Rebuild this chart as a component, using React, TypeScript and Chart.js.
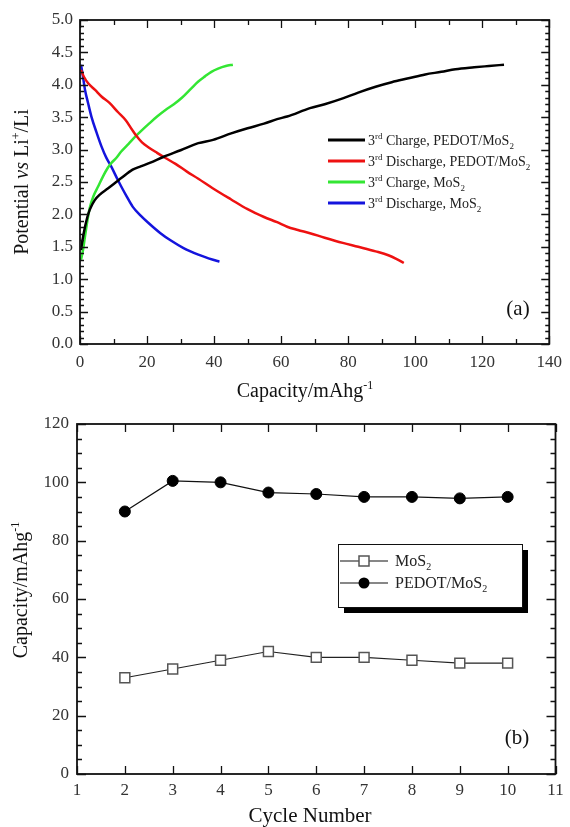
import React, { useEffect, useRef } from "react";
import { Chart, registerables } from "chart.js";

Chart.register(...registerables);

// ---------- Panel (a): 3rd charge / discharge curves ----------
const chargePedotCap = [0.3, 0.8, 1.5, 2.2, 2.9, 4.4, 6, 8.3, 10.8, 12.3, 15.7, 18.1, 21, 25, 30, 35.3, 39.7, 45.1, 50, 54.9, 58.8, 61.8, 68.6, 73, 78.4, 83, 88.2, 93, 98, 103, 107.8, 112, 117.6, 122, 126.5];
const chargePedotV = [1.45, 1.62, 1.81, 1.96, 2.07, 2.22, 2.31, 2.4, 2.5, 2.56, 2.69, 2.74, 2.8, 2.89, 2.99, 3.1, 3.15, 3.25, 3.33, 3.4, 3.47, 3.51, 3.64, 3.7, 3.79, 3.88, 3.97, 4.04, 4.1, 4.16, 4.2, 4.24, 4.27, 4.29, 4.31];

const dischargePedotCap = [0.3, 1.2, 2.5, 4.5, 6.4, 8.8, 11.3, 13.7, 15.5, 16.7, 18.5, 20.6, 23, 25.5, 28.5, 31.9, 35.3, 39.7, 45.1, 50, 54.9, 58.8, 61.8, 65, 68.6, 73, 78.4, 83, 88.2, 92, 94.5, 96.6];
const dischargePedotV = [4.23, 4.12, 4.02, 3.92, 3.82, 3.72, 3.58, 3.45, 3.31, 3.22, 3.11, 3.03, 2.95, 2.87, 2.78, 2.66, 2.55, 2.4, 2.23, 2.08, 1.96, 1.88, 1.81, 1.76, 1.71, 1.64, 1.56, 1.5, 1.43, 1.37, 1.31, 1.25];

const chargeMosCap = [0.3, 0.9, 1.5, 2.2, 2.9, 4, 5.4, 6.8, 8.3, 9.3, 10.8, 12.3, 14.5, 16.7, 18.5, 20.6, 23, 25.5, 28, 30.4, 33.3, 35.3, 37.3, 39.2, 41.2, 43.5, 45.6];
const chargeMosV = [1.3, 1.45, 1.66, 1.9, 2.1, 2.28, 2.43, 2.58, 2.72, 2.79, 2.87, 2.97, 3.09, 3.21, 3.3, 3.4, 3.51, 3.61, 3.7, 3.8, 3.95, 4.05, 4.13, 4.2, 4.25, 4.29, 4.31];

const dischargeMosCap = [0.3, 0.9, 1.5, 2.4, 3.4, 4.9, 6.4, 7.8, 9.3, 11.3, 12.3, 14, 15.7, 18.1, 20.6, 24, 27, 30.9, 35.3, 39.7, 41.6];
const dischargeMosV = [4.31, 4.12, 3.92, 3.72, 3.51, 3.27, 3.05, 2.88, 2.74, 2.53, 2.43, 2.27, 2.12, 1.98, 1.86, 1.71, 1.6, 1.48, 1.38, 1.3, 1.27];

const curveLabels = ["Charge, PEDOT/MoS", "Discharge, PEDOT/MoS", "Charge, MoS", "Discharge, MoS"];
const curveColors = ["#000000", "#ee1111", "#33e633", "#1414dd"];

// ---------- Panel (b): capacity vs cycle ----------
const cycles = [2, 3, 4, 5, 6, 7, 8, 9, 10];
const mos2Capacity = [33, 36, 39, 42, 40, 40, 39, 38, 38];
const pedotCapacity = [90, 100.5, 100, 96.5, 96, 95, 95, 94.5, 95];

const FONT = '"Liberation Serif", "Times New Roman", serif';

type Seg = { t: string; i?: boolean; sup?: boolean; sub?: boolean };

function drawRich(
  ctx: CanvasRenderingContext2D,
  segs: Seg[],
  x: number,
  y: number,
  size: number,
  align: "left" | "center",
  rotate = false,
  color = "#111"
) {
  ctx.save();
  ctx.translate(x, y);
  if (rotate) ctx.rotate(-Math.PI / 2);
  const fontOf = (s: Seg) =>
    `${s.i ? "italic " : ""}${s.sup || s.sub ? Math.round(size * 0.62) : size}px ${FONT}`;
  let total = 0;
  for (const s of segs) {
    ctx.font = fontOf(s);
    total += ctx.measureText(s.t).width;
  }
  let cx = align === "center" ? -total / 2 : 0;
  ctx.textBaseline = "alphabetic";
  ctx.textAlign = "left";
  ctx.fillStyle = color;
  for (const s of segs) {
    ctx.font = fontOf(s);
    const dy = s.sup ? -size * 0.4 : s.sub ? size * 0.25 : 0;
    ctx.fillText(s.t, cx, dy);
    cx += ctx.measureText(s.t).width;
  }
  ctx.restore();
}

function framePlugin(o: {
  xMinor: number; xMajor: number; yMinor: number; yMajor: number;
  majorLen: number; minorLen: number; xMajorLen?: number; xMinorLen?: number;
}) {
  return {
    id: "frameTicks",
    afterDatasetsDraw(chart: any) {
      const { ctx, chartArea: a, scales } = chart;
      const xs = scales.x;
      const ys = scales.y;
      ctx.save();
      ctx.strokeStyle = "#111";
      ctx.lineWidth = 1.3;
      ctx.beginPath();
      const isMajor = (v: number, m: number) => Math.abs(v / m - Math.round(v / m)) < 1e-6;
      const xMaj = o.xMajorLen ?? o.majorLen;
      const xMin = o.xMinorLen ?? o.minorLen;
      const nx = Math.round((xs.max - xs.min) / o.xMinor);
      for (let k = 0; k <= nx; k++) {
        const v = xs.min + k * o.xMinor;
        const px = Math.round(xs.getPixelForValue(v)) + 0.5;
        const len = isMajor(v, o.xMajor) ? xMaj : xMin;
        ctx.moveTo(px, a.bottom);
        ctx.lineTo(px, a.bottom - len);
        ctx.moveTo(px, a.top);
        ctx.lineTo(px, a.top + len);
      }
      const ny = Math.round((ys.max - ys.min) / o.yMinor);
      for (let k = 0; k <= ny; k++) {
        const v = ys.min + k * o.yMinor;
        const py = Math.round(ys.getPixelForValue(v)) + 0.5;
        const len = isMajor(v, o.yMajor) ? o.majorLen : o.minorLen;
        ctx.moveTo(a.left, py);
        ctx.lineTo(a.left + len, py);
        ctx.moveTo(a.right, py);
        ctx.lineTo(a.right - len, py);
      }
      ctx.stroke();
      ctx.lineWidth = 1.8;
      ctx.strokeRect(a.left, a.top, a.right - a.left, a.bottom - a.top);
      ctx.restore();
    },
  };
}

const zip = (xs: number[], ys: number[]) => xs.map((x, i) => ({ x, y: ys[i] }));

const tickFont = { family: FONT, size: 17 };

const TOP_H = 410;
const B_TOP = 400;

function ChartA() {
  const ref = useRef<HTMLCanvasElement>(null);
  useEffect(() => {
    const series = [
      zip(chargePedotCap, chargePedotV),
      zip(dischargePedotCap, dischargePedotV),
      zip(chargeMosCap, chargeMosV),
      zip(dischargeMosCap, dischargeMosV),
    ];
    const textPlugin = {
      id: "textA",
      afterDraw(chart: any) {
        const ctx = chart.ctx as CanvasRenderingContext2D;
        drawRich(ctx, [{ t: "Potential " }, { t: "vs", i: true }, { t: " Li" }, { t: "+", sup: true }, { t: "/Li" }], 28, 182, 20, "center", true);
        drawRich(ctx, [{ t: "Capacity/mAhg" }, { t: "-1", sup: true }], 305, 397, 20, "center");
        drawRich(ctx, [{ t: "(a)" }], 518, 315, 21, "center");
        const rows = [140, 161, 182, 203];
        chart.data.datasets.forEach((ds: any, i: number) => {
          const cy = rows[i];
          ctx.save();
          ctx.strokeStyle = ds.borderColor;
          ctx.lineWidth = 3;
          ctx.beginPath();
          ctx.moveTo(328, cy);
          ctx.lineTo(365, cy);
          ctx.stroke();
          ctx.restore();
          drawRich(ctx, [{ t: "3" }, { t: "rd", sup: true }, { t: " " + curveLabels[i] }, { t: "2", sub: true }], 368, cy + 5, 14, "left", false, "#222");
        });
      },
    };
    const chart = new Chart(ref.current!, {
      type: "line",
      data: {
        datasets: series.map((d, i) => ({
          label: curveLabels[i],
          data: d,
          borderColor: curveColors[i],
          borderWidth: 2.5,
          pointRadius: 0,
          cubicInterpolationMode: "monotone" as const,
          fill: false,
        })),
      },
      options: {
        responsive: false,
        animation: false,
        events: [],
        layout: { padding: { left: 0, right: 14, top: 20, bottom: 0 } },
        plugins: { legend: { display: false }, tooltip: { enabled: false } },
        scales: {
          x: {
            type: "linear",
            min: 0,
            max: 140,
            grid: { display: false, drawTicks: false },
            border: { display: false },
            ticks: { stepSize: 20, font: tickFont, color: "#333", padding: 8, maxRotation: 0 },
            afterFit: (s: any) => { s.height = TOP_H - 344; },
          },
          y: {
            type: "linear",
            min: 0,
            max: 5,
            grid: { display: false, drawTicks: false },
            border: { display: false },
            ticks: { stepSize: 0.5, font: tickFont, color: "#333", padding: 7, callback: (v: any) => Number(v).toFixed(1) },
            afterFit: (s: any) => { s.width = 80; },
          },
        },
      },
      plugins: [framePlugin({ xMinor: 10, xMajor: 20, yMinor: 0.1, yMajor: 0.5, majorLen: 8, minorLen: 4, xMajorLen: 8, xMinorLen: 5 }), textPlugin],
    } as any);
    return () => chart.destroy();
  }, []);
  return <canvas ref={ref} width={570} height={TOP_H} style={{ position: "absolute", left: 0, top: 0, display: "block" }} />;
}

function ChartB() {
  const ref = useRef<HTMLCanvasElement>(null);
  useEffect(() => {
    const o = B_TOP; // page offset of this canvas
    const textPlugin = {
      id: "textB",
      afterDraw(chart: any) {
        const ctx = chart.ctx as CanvasRenderingContext2D;
        drawRich(ctx, [{ t: "Capacity/mAhg" }, { t: "-1", sup: true }], 27, 590 - o, 20, "center", true);
        drawRich(ctx, [{ t: "Cycle Number" }], 310, 822 - o, 21, "center");
        drawRich(ctx, [{ t: "(b)" }], 517, 744 - o, 21, "center");
        // legend box with shadow
        const bx = 338, by = 544 - o, bw = 184, bh = 63;
        ctx.save();
        ctx.fillStyle = "#000";
        ctx.fillRect(bx + 6, by + 6, bw, bh);
        ctx.fillStyle = "#fff";
        ctx.fillRect(bx, by, bw, bh);
        ctx.strokeStyle = "#111";
        ctx.lineWidth = 1;
        ctx.strokeRect(bx + 0.5, by + 0.5, bw, bh);
        const rows = [561 - o, 583 - o];
        rows.forEach((cy, i) => {
          ctx.strokeStyle = "#111";
          ctx.lineWidth = 1.2;
          ctx.beginPath();
          ctx.moveTo(340, cy);
          ctx.lineTo(388, cy);
          ctx.stroke();
          if (i === 0) {
            ctx.fillStyle = "#fff";
            ctx.fillRect(359, cy - 5, 10, 10);
            ctx.strokeStyle = "#555";
            ctx.lineWidth = 1.5;
            ctx.strokeRect(359, cy - 5, 10, 10);
          } else {
            ctx.fillStyle = "#000";
            ctx.beginPath();
            ctx.arc(364, cy, 5.5, 0, Math.PI * 2);
            ctx.fill();
          }
        });
        ctx.restore();
        drawRich(ctx, [{ t: "MoS" }, { t: "2", sub: true }], 395, rows[0] + 5, 16, "left", false, "#222");
        drawRich(ctx, [{ t: "PEDOT/MoS" }, { t: "2", sub: true }], 395, rows[1] + 5, 16, "left", false, "#222");
      },
    };
    const chart = new Chart(ref.current!, {
      type: "line",
      data: {
        datasets: [
          {
            label: "MoS2",
            data: zip(cycles, mos2Capacity),
            borderColor: "#222",
            borderWidth: 1.2,
            pointStyle: "rect",
            pointRadius: 7,
            pointBorderColor: "#555",
            pointBackgroundColor: "#fff",
            pointBorderWidth: 1.5,
          },
          {
            label: "PEDOT/MoS2",
            data: zip(cycles, pedotCapacity),
            borderColor: "#111",
            borderWidth: 1.2,
            pointStyle: "circle",
            pointRadius: 5.5,
            pointBorderColor: "#000",
            pointBackgroundColor: "#000",
            pointBorderWidth: 1,
          },
        ],
      },
      options: {
        responsive: false,
        animation: false,
        events: [],
        layout: { padding: { left: 0, right: 14.5, top: 424 - o, bottom: 0 } },
        plugins: { legend: { display: false }, tooltip: { enabled: false } },
        scales: {
          x: {
            type: "linear",
            min: 1,
            max: 11,
            grid: { display: false, drawTicks: false },
            border: { display: false },
            ticks: { stepSize: 1, font: tickFont, color: "#333", padding: 6, maxRotation: 0 },
            afterFit: (s: any) => { s.height = 827 - 774; },
          },
          y: {
            type: "linear",
            min: 0,
            max: 120,
            grid: { display: false, drawTicks: false },
            border: { display: false },
            ticks: { stepSize: 20, font: tickFont, color: "#333", padding: 8 },
            afterFit: (s: any) => { s.width = 77; },
          },
        },
      },
      plugins: [framePlugin({ xMinor: 1, xMajor: 1, yMinor: 5, yMajor: 20, majorLen: 9, minorLen: 5, xMajorLen: 8, xMinorLen: 8 }), textPlugin],
    } as any);
    return () => chart.destroy();
  }, []);
  return <canvas ref={ref} width={570} height={827 - B_TOP} style={{ position: "absolute", left: 0, top: B_TOP, display: "block" }} />;
}

export default function App() {
  return (
    <div style={{ position: "absolute", left: 0, top: 0, width: 570, height: 827, background: "#fff", overflow: "hidden" }}>
      <ChartA />
      <ChartB />
    </div>
  );
}
